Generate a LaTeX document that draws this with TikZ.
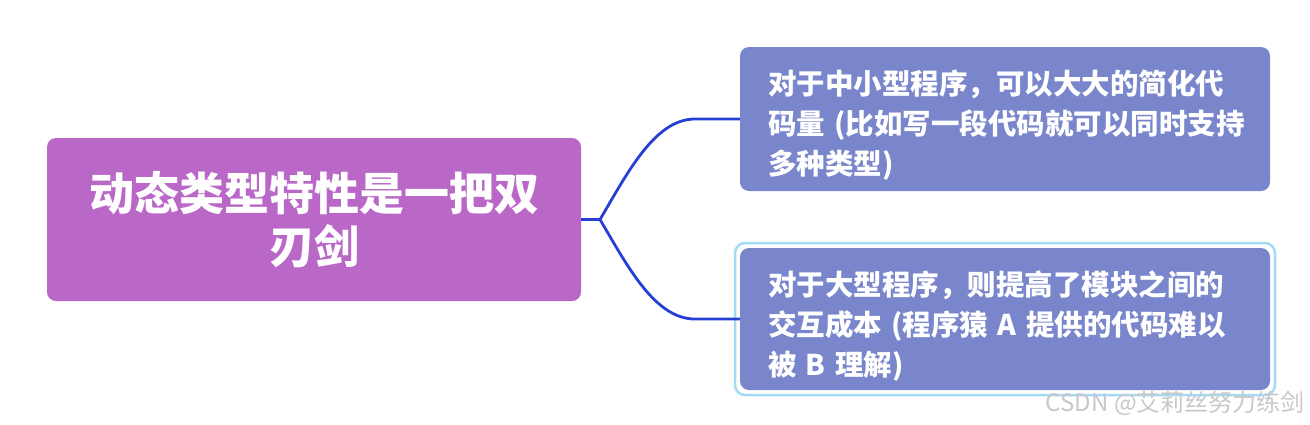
\documentclass[tikz,border=0pt]{standalone}
\usepackage{fontspec}
\setmainfont{Noto Sans CJK SC}
\definecolor{rootcol}{HTML}{BA68C8}
\definecolor{subcol}{HTML}{7986CB}
\definecolor{linkcol}{HTML}{2640D6}
\definecolor{selcol}{HTML}{A3DAF5}
\definecolor{markcol}{HTML}{C8C8C8}
\begin{document}
\begin{tikzpicture}[x=1pt,y=-1pt,
  rootbox/.style={fill=rootcol, rounded corners=9pt, minimum width=534pt, minimum height=163pt,
    text=white, font=\fontsize{45}{53}\selectfont\bfseries, align=center, inner sep=0pt},
  subbox/.style={fill=subcol, rounded corners=9pt, minimum width=530pt, minimum height=144pt, inner sep=0pt},
  subtext/.style={text=white, font=\fontsize{28.5}{40}\selectfont\bfseries, align=left, text width=474pt, inner sep=0pt},
  link/.style={draw=linkcol, line width=2.8pt}]
\useasboundingbox (0,0) rectangle (1310,424);
\node[rootbox] (root) at (314,219.5) {动态类型特性是一把双\\刃剑};
\node[subbox] (top) at (1005,119) {};
\node[subtext] (toptext) at ([yshift=-6pt]top.center) {对于中小型程序，可以大大的简化代\\码量 (比如写一段代码就可以同时支持\\多种类型)};
\draw[selcol, line width=2.5pt, rounded corners=10pt] (735,243) rectangle (1275,395);
\node[subbox, minimum height=142pt] (bot) at (1005,319) {};
\node[subtext] (bottext) at ([yshift=-7pt]bot.center) {对于大型程序，则提高了模块之间的\\交互成本 (程序猿 A 提供的代码难以\\被 B 理解)};
\coordinate (fork) at (600,219.5);
\draw[link] (root.east) -- (fork) .. controls (628,172) and (655,119) .. (695,119) -- (top.west);
\draw[link] (fork) .. controls (628,267) and (655,319) .. (695,319) -- (bot.west);
\node[text=markcol, font=\fontsize{24}{26}\selectfont, anchor=east, inner sep=0pt] (mark) at (1305,403) {CSDN @艾莉丝努力练剑};
\end{tikzpicture}
\end{document}
